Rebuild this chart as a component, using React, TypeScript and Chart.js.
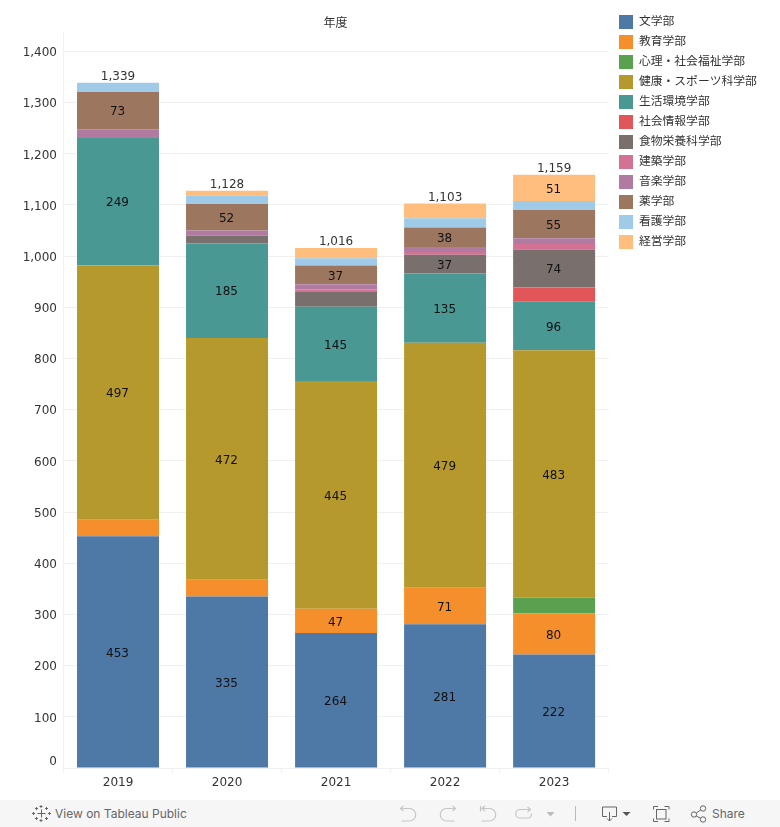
import React, { useEffect, useRef } from "react";
import { Chart, registerables } from "chart.js";

Chart.register(...registerables);

const years = ["2019", "2020", "2021", "2022", "2023"];
const bungaku = [453, 335, 264, 281, 222];
const kyoiku = [32, 33, 47, 71, 80];
const shinri = [0, 0, 0, 0, 31];
const kenko = [497, 472, 445, 479, 483];
const seikatsu = [249, 185, 145, 135, 96];
const shakai = [0, 0, 0, 0, 27];
const shokumotsu = [0, 15, 29, 37, 74];
const kenchiku = [0, 0, 5, 5, 11];
const ongaku = [17, 10, 10, 10, 11];
const yaku = [73, 52, 37, 38, 55];
const kango = [18, 16, 14, 18, 18];
const keiei = [0, 10, 20, 29, 51];
const totals = [1339, 1128, 1016, 1103, 1159];
const yTicksMax = 1438;
const minLabelled = 35;

const seriesTable = [
  { label: "文学部", data: bungaku, color: "#4e79a7" },
  { label: "教育学部", data: kyoiku, color: "#f58f2c" },
  { label: "心理・社会福祉学部", data: shinri, color: "#59a14f" },
  { label: "健康・スポーツ科学部", data: kenko, color: "#b6992d" },
  { label: "生活環境学部", data: seikatsu, color: "#499894" },
  { label: "社会情報学部", data: shakai, color: "#e15759" },
  { label: "食物栄養科学部", data: shokumotsu, color: "#79706e" },
  { label: "建築学部", data: kenchiku, color: "#d37295" },
  { label: "音楽学部", data: ongaku, color: "#b07aa1" },
  { label: "薬学部", data: yaku, color: "#9d7660" },
  { label: "看護学部", data: kango, color: "#a0cbe8" },
  { label: "経営学部", data: keiei, color: "#ffbe7d" },
];

const FONT = "'DejaVu Sans', 'Noto Sans CJK JP', sans-serif";
const GRID = "#f0f0f0";

const annotate = {
  id: "annotate",
  afterLayout(chart: any) {
    const lg = chart.legend;
    if (lg) {
      lg.left = 613;
      lg.top = 9;
    }
  },
  afterDatasetsDraw(chart: any) {
    const { ctx, chartArea, scales } = chart;
    ctx.save();
    ctx.textAlign = "center";
    ctx.textBaseline = "middle";
    ctx.font = `12px ${FONT}`;
    chart.data.datasets.forEach((ds: any, di: number) => {
      const meta = chart.getDatasetMeta(di);
      ds.data.forEach((v: number, i: number) => {
        if (v < minLabelled) return;
        const bar = meta.data[i];
        ctx.fillStyle = "#111";
        ctx.fillText(String(v), bar.x - 0.5, (bar.y + bar.base) / 2 + 1.6);
      });
    });
    ctx.fillStyle = "#333";
    totals.forEach((t, i) => {
      const x = scales.x.getPixelForValue(i);
      ctx.fillText(t.toLocaleString("en-US"), x, scales.y.getPixelForValue(t) - 6);
    });
    ctx.fillText("年度", (chartArea.left + chartArea.right) / 2 - 0.5, 24);
    ctx.restore();
  },
};

const disabled = "#c6c6c6";

function Toolbar() {
  return (
    <div
      style={{
        position: "absolute",
        left: 0,
        top: 800,
        width: 780,
        height: 27,
        background: "#f6f6f6",
        fontFamily: "Inter, Roboto, sans-serif",
        fontSize: 12,
        color: "#666",
      }}
    >
      <svg width="780" height="27" style={{ position: "absolute", left: 0, top: 0 }}>
        <g stroke="#666" strokeWidth="1" fill="none">
          <path d="M37.5 13.5h8M41.5 9.5v8" />
          <path d="M41 5v3M39.5 6.5h3M41 19v3M39.5 20.5h3M33.5 12v3M32 13.5h3M49.5 12v3M48 13.5h3" />
          <path d="M36.5 7v3M35 8.5h3M46.5 7v3M45 8.5h3M36.5 17v3M35 18.5h3M46.5 17v3M45 18.5h3" />
        </g>
        <g stroke={disabled} strokeWidth="1.2" fill="none">
          <path d="M400.5 8.5h9a6.2 6.2 0 0 1 0 12.5h-8M403.5 6l-3 2.5l3 2.5" />
          <path d="M455.5 8.5h-9a6.2 6.2 0 0 0 0 12.5h8M452.5 6l3 2.5l-3 2.5" />
          <path d="M480.5 6v5.5M482.5 8.5h7a6.2 6.2 0 0 1 0 12.5h-8M485 6l-3 2.5l3 2.5" />
          <path d="M530 9.5h-10a3.8 3.8 0 0 0 0 8.5h8a3.8 3.8 0 0 0 3.5-4.5M527.5 7l3 2.5l-3 2.5" />
        </g>
        <path d="M546.5 12h8l-4 4.5z" fill="#bbb" />
        <path d="M575.5 6v15" stroke="#bbb" />
        <g stroke="#666" strokeWidth="1" fill="none">
          <path d="M607 16.5h-4.5v-9.5h14v9.5h-4.5M609.5 12v9M607 18.5l2.5 2.5l2.5-2.5" />
          <path d="M658 6.5h-4.5v3M664.5 6.5h4.5v3M658 21.5h-4.5v-3M664.5 21.5h4.5v-3" />
          <rect x="656.5" y="9.5" width="9.5" height="9.5" />
          <circle cx="694" cy="14.5" r="2.7" />
          <circle cx="703" cy="8.5" r="2.7" />
          <circle cx="703" cy="19.5" r="2.7" />
          <path d="M696.3 13l4.4-3M696.3 16l4.4 2.3" />
        </g>
        <path d="M622.5 12h8l-4 4z" fill="#555" />
      </svg>
      <span style={{ position: "absolute", left: 55, top: 6 }}>View on Tableau Public</span>
      <span style={{ position: "absolute", left: 712, top: 6 }}>Share</span>
    </div>
  );
}

export default function App() {
  const ref = useRef<HTMLCanvasElement>(null);

  useEffect(() => {
    if (!ref.current) return;
    const chart = new Chart(ref.current, {
      type: "bar",
      data: {
        labels: years,
        datasets: seriesTable.map((s) => ({
          label: s.label,
          data: s.data,
          backgroundColor: s.color,
          borderWidth: 0,
          categoryPercentage: 1,
          barPercentage: 0.752,
        })),
      },
      plugins: [annotate],
      options: {
        responsive: false,
        animation: false,
        layout: { padding: { top: 32, right: 17.5, bottom: 0, left: 0 } },
        plugins: {
          tooltip: { enabled: false },
          title: { display: false },
          legend: {
            display: true,
            position: "right",
            align: "start",
            labels: {
              boxWidth: 14,
              boxHeight: 14,
              padding: 6,
              color: "#333",
              font: { size: 11.8, family: FONT },
            },
          },
        },
        scales: {
          x: {
            stacked: true,
            grid: { color: GRID, drawOnChartArea: false, drawTicks: true, tickLength: 5 },
            border: { color: GRID },
            ticks: { color: "#333", font: { size: 12, family: FONT }, padding: 3, maxRotation: 0 },
            afterFit(s: any) {
              s.height = 32;
            },
          },
          y: {
            stacked: true,
            min: 0,
            max: yTicksMax,
            grid: { color: GRID, drawTicks: false },
            border: { color: GRID },
            ticks: {
              stepSize: 100,
              includeBounds: false,
              padding: 6.5,
              labelOffset: 1.6,
              color: "#333",
              font: { size: 12, family: FONT, lineHeight: 1.35 },
              callback: (v: any) => (v === 0 ? ["0", ""] : Number(v).toLocaleString("en-US")),
            },
            afterFit(s: any) {
              s.width = 63.5;
            },
          },
        },
      },
    } as any);
    return () => chart.destroy();
  }, []);

  return (
    <div style={{ position: "absolute", left: 0, top: 0, width: 780, height: 827, background: "#fff", overflow: "hidden" }}>
      <canvas ref={ref} width={780} height={800} style={{ display: "block" }} />
      <Toolbar />
    </div>
  );
}
